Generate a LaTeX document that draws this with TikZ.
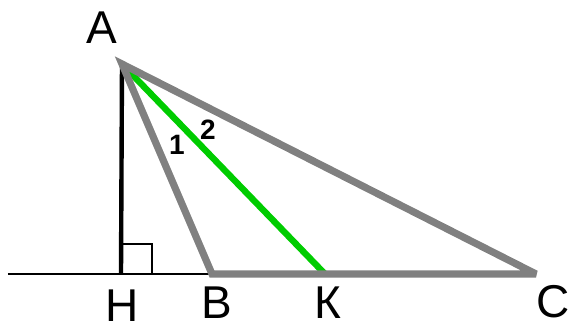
\documentclass[tikz,border=0pt]{standalone}
\usepackage{fontspec}
\setmainfont{Liberation Sans}
\usepackage{tikz}
\usetikzlibrary{calc}
\colorlet{sideGray}{black!50}
\colorlet{bisGreen}{green!80!black}
\tikzset{
  ptlabel/.style={
    inner sep=0pt,
    font=\fontsize{23}{23}\selectfont
  },
  anglabel/.style={
    inner sep=0pt,
    font=\fontsize{14}{14}\selectfont\bfseries
  },
  baseline/.style={
    line width=1pt,
    draw=black
  },
  height/.style={
    line width=2.2pt,
    draw=black
  },
  side/.style={
    line width=3.6pt,
    draw=sideGray,
    line join=miter,
    miter limit=4
  },
  bisector/.style={
    line width=3.2pt,
    draw=bisGreen
  }
}
\begin{document}
\begin{tikzpicture}[x=0.5pt,y=-0.5pt]
\useasboundingbox (0,0) rectangle (570,328);

\coordinate (A) at (122,64);
\coordinate (H) at (121,274);
\coordinate (B) at (212,274);
\coordinate (K) at (325,274);
\coordinate (C) at (536,274);
\coordinate (left) at (8,274);

\node[ptlabel] (lA) at (102,28) {А};
\node[ptlabel] (lH) at (122,306) {Н};
\node[ptlabel] (lB) at (217,303) {В};
\node[ptlabel] (lK) at (328,303) {К};
\node[ptlabel] (lC) at (553,302) {С};
\node[anglabel] (one) at (177,145) {1};
\node[anglabel] (two) at (208,130) {2};

\draw[baseline] (left) -- (B);
\draw[baseline] ($(H)+(0,-30)$) -| ($(H)+(31,0)$);
\draw[height] (A) -- (H);
\draw[bisector] (A) -- (K);
\draw[side] (A) -- (B) -- (C) -- cycle;

\end{tikzpicture}
\end{document}
